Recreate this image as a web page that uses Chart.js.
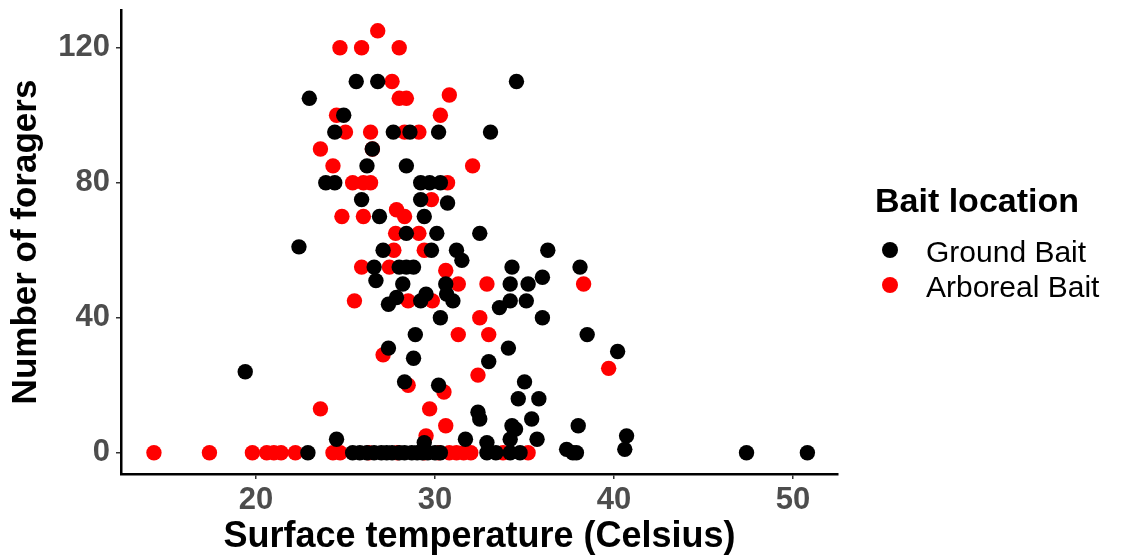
<!DOCTYPE html>
<html><head><meta charset="utf-8">
<script src="https://cdn.jsdelivr.net/npm/chart.js@4.4.0/dist/chart.umd.min.js"></script>
<style>html,body{margin:0;padding:0;background:#fff;overflow:hidden}</style>
</head><body>
<canvas id="c" width="1141" height="557" style="display:block;width:1141px;height:557px"></canvas>
<script>
// ---- data ----
const seriesNames = ['Ground Bait', 'Arboreal Bait'];
const seriesColors = ['#000000', '#FF0000'];
const xTicks = [20, 30, 40, 50];
const yTicks = [0, 40, 80, 120];

const groundTemp = [
  25.6, 26.8, 34.55, 22.98, 24.9, 24.4, 27.67, 28.6, 30.2, 33.1,
  26.5, 26.2, 28.4, 23.9, 24.4, 29.2, 29.7, 30.3, 25.9, 29.2, 30.7,
  26.9, 29.4, 28.4, 30.1, 32.5, 22.4, 27.1, 29.8, 31.2, 36.3, 31.5,
  26.6, 28.0, 28.4, 28.8, 34.3, 38.1, 36.0, 26.7, 28.2, 30.6, 34.2, 35.2,
  27.85, 29.5, 30.65, 27.4, 29.2, 31.0, 34.2, 35.1, 33.6, 30.3, 36.0,
  28.9, 38.5, 27.4, 34.1, 40.2, 28.8, 33.0, 19.4, 28.3, 35.0, 30.2,
  34.65, 35.8, 32.4, 32.5, 35.4, 34.3, 34.5, 38.0, 40.7,
  24.5, 31.7, 34.2, 35.7, 29.4, 32.9, 40.6,
  22.9, 25.4, 25.8, 26.2, 26.6, 27.0, 27.3, 27.6, 28.0, 28.3, 28.7, 29.0,
  29.3, 29.6, 30.0, 30.3, 32.9, 33.4, 34.2, 34.75, 37.35, 37.7, 37.9, 47.4, 50.8
];
const groundCount = [
  110, 110, 110, 105, 100, 95, 95, 95, 95, 95,
  90, 85, 85, 80, 80, 80, 80, 80, 75, 75, 74,
  70, 70, 65, 65, 65, 61, 60, 60, 60, 60, 57,
  55, 55, 55, 55, 55, 55, 52, 51, 50, 50, 50, 50,
  46, 47, 47, 44, 45, 45, 45, 45, 43, 40, 40,
  35, 35, 31, 31, 30, 28, 27, 24, 21, 21, 20,
  16, 16, 12, 10, 10, 8, 7, 8, 5,
  4, 4, 4, 4, 3, 3, 1,
  0, 0, 0, 0, 0, 0, 0, 0, 0, 0, 0, 0,
  0, 0, 0, 0, 0, 0, 0, 0, 1, 0, 0, 0, 0
];

const arborealTemp = [
  24.69, 25.9, 26.8, 28.0, 27.6, 28.0, 28.4, 30.8, 24.5, 30.3,
  25.0, 26.4, 28.3, 29.1, 23.6, 26.5, 24.3, 32.1,
  25.4, 26.0, 26.4, 30.7, 29.8, 24.8, 26.0, 27.85, 28.3,
  27.8, 29.1, 27.7, 29.4, 25.9, 27.45, 30.6,
  31.3, 32.9, 38.3, 25.5, 28.5, 29.85, 32.5, 31.3, 33.0,
  27.1, 39.7, 32.4, 28.5, 30.5, 23.6, 29.7, 30.6, 29.5,
  14.3, 17.4, 19.8, 20.6, 21.0, 21.4, 22.2, 24.3, 24.7,
  26.3, 27.9, 29.4, 30.2, 30.8, 31.2, 31.6, 32.0, 33.8, 35.2
];
const arborealCount = [
  120, 120, 125, 120, 110, 105, 105, 106, 100, 100,
  95, 95, 95, 95, 90, 90, 85, 85,
  80, 80, 80, 80, 75, 70, 70, 72, 70,
  65, 65, 60, 60, 55, 55, 54,
  50, 50, 50, 45, 45, 45, 40, 35, 35,
  29, 25, 23, 20, 18, 13, 13, 8, 5,
  0, 0, 0, 0, 0, 0, 0, 0, 0,
  0, 0, 0, 0, 0, 0, 0, 0, 0, 0
];

const FAM = '"Liberation Sans", Arial, Helvetica, sans-serif';

function toPoints(xs, ys) { return xs.map((x, i) => ({x: x, y: ys[i]})); }

const legendPlugin = {
  id: 'ggLegend',
  afterDraw(chart) {
    const ctx = chart.ctx;
    ctx.save();
    ctx.fillStyle = '#000';
    ctx.textAlign = 'left';
    ctx.textBaseline = 'alphabetic';
    ctx.font = 'bold 34px ' + FAM;
    ctx.fillText('Bait location', 875, 212);
    const rows = [{cy: 250, base: 262}, {cy: 285, base: 297}];
    chart.data.datasets.forEach((ds, i) => {
      ctx.beginPath();
      ctx.fillStyle = ds.backgroundColor;
      ctx.arc(890, rows[i].cy, 8, 0, Math.PI * 2);
      ctx.fill();
      ctx.fillStyle = '#000';
      ctx.font = '30px ' + FAM;
      ctx.fillText(ds.label, 926, rows[i].base);
    });
    ctx.restore();
  }
};

new Chart(document.getElementById('c'), {
  type: 'scatter',
  data: {
    datasets: [
      {label: seriesNames[0], data: toPoints(groundTemp, groundCount), backgroundColor: seriesColors[0], borderWidth: 0, pointRadius: 7.7},
      {label: seriesNames[1], data: toPoints(arborealTemp, arborealCount), backgroundColor: seriesColors[1], borderWidth: 0, pointRadius: 7.7}
    ]
  },
  options: {
    responsive: false,
    animation: false,
    devicePixelRatio: 1,
    layout: {padding: {top: 10, right: 303, left: 0, bottom: 0}},
    plugins: {legend: {display: false}, tooltip: {enabled: false}},
    scales: {
      x: {
        type: 'linear', min: 12.46, max: 52.51, bounds: 'data',
        afterBuildTicks: s => { s.ticks = xTicks.map(v => ({value: v})); },
        afterFit: s => { s.height = 83; s.paddingLeft = 0; s.paddingRight = 0; },
        ticks: {font: {family: FAM, size: 31, weight: 'bold'}, color: '#4d4d4d', padding: 3, maxRotation: 0, autoSkip: false},
        grid: {drawOnChartArea: false, drawTicks: true, tickLength: 5, color: '#333', lineWidth: 1.5},
        border: {display: true, color: '#000', width: 2.5},
        title: {display: true, text: 'Surface temperature (Celsius)', color: '#000', font: {family: FAM, size: 36, weight: 'bold', lineHeight: 1.1}, padding: 0}
      },
      y: {
        type: 'linear', min: -6.31, max: 131.17, bounds: 'data',
        afterBuildTicks: s => { s.ticks = yTicks.map(v => ({value: v})); },
        afterFit: s => { s.width = 121; s.paddingTop = 0; s.paddingBottom = 0; },
        ticks: {font: {family: FAM, size: 31, weight: 'bold'}, color: '#4d4d4d', padding: 6, autoSkip: false},
        grid: {drawOnChartArea: false, drawTicks: true, tickLength: 5, color: '#333', lineWidth: 1.5},
        border: {display: true, color: '#000', width: 2.5},
        title: {display: true, text: 'Number of foragers', color: '#000', font: {family: FAM, size: 35, weight: 'bold', lineHeight: 1.1}, padding: {top: 7, bottom: 0}}
      }
    }
  },
  plugins: [legendPlugin]
});
</script>
</body></html>
